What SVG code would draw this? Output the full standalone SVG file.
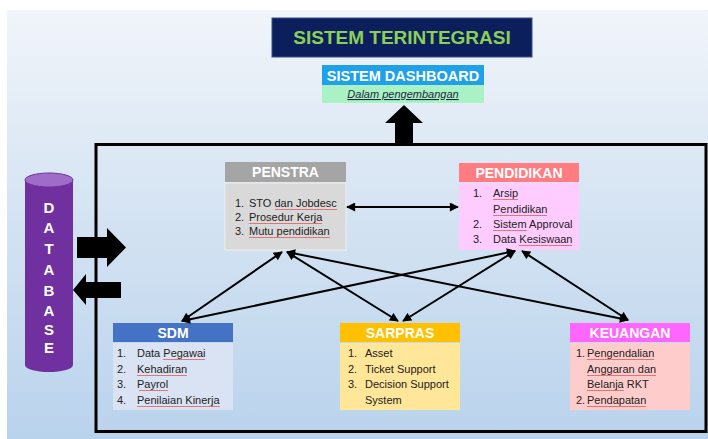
<svg xmlns="http://www.w3.org/2000/svg" width="708" height="439" viewBox="0 0 708 439">
<defs>
<linearGradient id="bg" x1="0" y1="0" x2="0" y2="1">
<stop offset="0" stop-color="#f1f5fa"/>
<stop offset="0.45" stop-color="#d6e4f3"/>
<stop offset="1" stop-color="#b9d3ec"/>
</linearGradient>
<marker id="ah" viewBox="0 0 10 10" refX="9" refY="5" markerWidth="10" markerHeight="9" markerUnits="userSpaceOnUse" orient="auto-start-reverse">
<path d="M0,0 L10,5 L0,10 z" fill="#000"/>
</marker>
<style>
text{font-family:"Liberation Sans",Arial,sans-serif}
.hd{font-weight:bold;font-size:14px;fill:#fff;text-anchor:middle}
.it{font-size:11px;fill:#222}
.sq{stroke:#e05a5a;stroke-width:0.8;fill:none}
.cn{stroke:#000;stroke-width:2;fill:none;marker-start:url(#ah);marker-end:url(#ah)}
.db{font-weight:bold;font-size:15px;fill:#fff;text-anchor:middle}
</style>
</defs>
<rect x="0" y="0" width="708" height="439" fill="#fff"/>
<rect x="7" y="10" width="701" height="429" fill="url(#bg)"/>

<g id="title">
<rect x="272" y="18" width="260" height="39" fill="#0a1f5c" stroke="#3a4f86" stroke-width="1"/>
<text x="402" y="44" font-size="19" font-weight="bold" fill="#8dcf55" text-anchor="middle">SISTEM TERINTEGRASI</text>
</g>

<g id="dashboard">
<rect x="322" y="65" width="162" height="20" fill="#1ea1e8"/>
<text x="403" y="80.5" font-size="14.5" font-weight="bold" fill="#fff" text-anchor="middle">SISTEM DASHBOARD</text>
<rect x="322" y="85" width="162" height="18" fill="#a8f2c6"/>
<text x="403" y="98" font-size="11" font-style="italic" fill="#1e2a3a" text-anchor="middle" text-decoration="underline">Dalam pengembangan</text>
</g>

<g id="frame">
<rect x="96" y="144.5" width="610" height="287" fill="none" stroke="#000" stroke-width="3"/>
</g>

<g id="database">
<path d="M25,180 L25,365 A24,7 0 0 0 73,365 L73,180 z" fill="#7030a0"/>
<ellipse cx="49" cy="180" rx="24" ry="7" fill="#9f6dc8" stroke="#7030a0" stroke-width="1"/>
<text class="db" x="49" y="213">D</text>
<text class="db" x="49" y="233">A</text>
<text class="db" x="49" y="254">T</text>
<text class="db" x="49" y="275">A</text>
<text class="db" x="49" y="296">B</text>
<text class="db" x="49" y="316">A</text>
<text class="db" x="49" y="335">S</text>
<text class="db" x="49" y="353">E</text>
</g>

<g id="block-arrows">
<polygon points="77,237 107,237 107,228 126,247.5 107,267 107,258 77,258" fill="#000"/>
<polygon points="121,282 86,282 86,274 73,290 86,305 86,298 121,298" fill="#000"/>
<polygon points="395,145 395,123 385,123 404,105 423,123 413,123 413,145" fill="#000"/>
</g>

<g id="penstra">
<rect x="225" y="162" width="121" height="20" fill="#a5a5a5"/>
<text class="hd" x="285.5" y="177">PENSTRA</text>
<rect x="225" y="183" width="121" height="67" fill="#d9d9d9" stroke="#eeeeee" stroke-width="1"/>
<text class="it" x="235" y="207">1.</text><text class="it" x="249" y="207">STO dan Jobdesc</text>
<text class="it" x="235" y="221">2.</text><text class="it" x="249" y="221">Prosedur Kerja</text>
<text class="it" x="235" y="235">3.</text><text class="it" x="249" y="235">Mutu pendidikan</text>
<path class="sq" d="M275,209.5 H337 M249,223.5 H322 M249,237.5 H330"/>
</g>

<g id="pendidikan">
<rect x="459" y="163" width="120" height="19" fill="#ff7c80"/>
<text class="hd" x="519" y="177.5">PENDIDIKAN</text>
<rect x="459" y="183" width="120" height="67" fill="#ffccff"/>
<text class="it" x="473" y="197">1.</text><text class="it" x="493" y="197">Arsip</text>
<text class="it" x="493" y="213">Pendidikan</text>
<text class="it" x="473" y="228">2.</text><text class="it" x="493" y="228">Sistem Approval</text>
<text class="it" x="473" y="243">3.</text><text class="it" x="493" y="243">Data Kesiswaan</text>
<path class="sq" d="M493,199.5 H518 M493,215.5 H547 M493,230.5 H527 M519,245.5 H572"/>
</g>

<g id="sdm">
<rect x="113" y="323" width="120" height="19" fill="#4472c4"/>
<text class="hd" x="173" y="337.5">SDM</text>
<rect x="113" y="343" width="120" height="67" fill="#dae3f3"/>
<text class="it" x="117" y="357">1.</text><text class="it" x="137" y="357">Data Pegawai</text>
<text class="it" x="117" y="373">2.</text><text class="it" x="137" y="373">Kehadiran</text>
<text class="it" x="117" y="388">3.</text><text class="it" x="137" y="388">Payrol</text>
<text class="it" x="117" y="404">4.</text><text class="it" x="137" y="404">Penilaian Kinerja</text>
<path class="sq" d="M163,359.5 H205 M137,375.5 H187 M139,390.5 H168 M137,406.5 H220"/>
</g>

<g id="sarpras">
<rect x="340" y="323" width="120" height="19" fill="#ffc000"/>
<text class="hd" x="400" y="337.5">SARPRAS</text>
<rect x="340" y="343" width="120" height="67" fill="#ffe699"/>
<text class="it" x="348" y="357">1.</text><text class="it" x="365" y="357">Asset</text>
<text class="it" x="348" y="373">2.</text><text class="it" x="365" y="373">Ticket Support</text>
<text class="it" x="348" y="388">3.</text><text class="it" x="365" y="388">Decision Support</text>
<text class="it" x="365" y="404">System</text>
</g>

<g id="keuangan">
<rect x="570" y="323" width="120" height="19" fill="#ff66ff"/>
<text class="hd" x="630" y="337.5">KEUANGAN</text>
<rect x="570" y="343" width="120" height="67" fill="#ffcccc"/>
<text class="it" x="576" y="357">1.</text><text class="it" x="587" y="357">Pengendalian</text>
<text class="it" x="587" y="373">Anggaran dan</text>
<text class="it" x="587" y="388">Belanja RKT</text>
<text class="it" x="576" y="404">2.</text><text class="it" x="587" y="404">Pendapatan</text>
<path class="sq" d="M587,359.5 H654 M587,375.5 H656 M587,390.5 H624 M587,406.5 H646"/>
</g>

<g id="connectors">
<line class="cn" x1="347" y1="207" x2="458" y2="207"/>
<line class="cn" x1="182" y1="321" x2="282" y2="252"/>
<line class="cn" x1="182" y1="321" x2="515" y2="251"/>
<line class="cn" x1="287" y1="252" x2="398" y2="321"/>
<line class="cn" x1="515" y1="251" x2="403" y2="321"/>
<line class="cn" x1="287" y1="252" x2="628" y2="320"/>
<line class="cn" x1="522" y1="251" x2="628" y2="320"/>
</g>
</svg>
